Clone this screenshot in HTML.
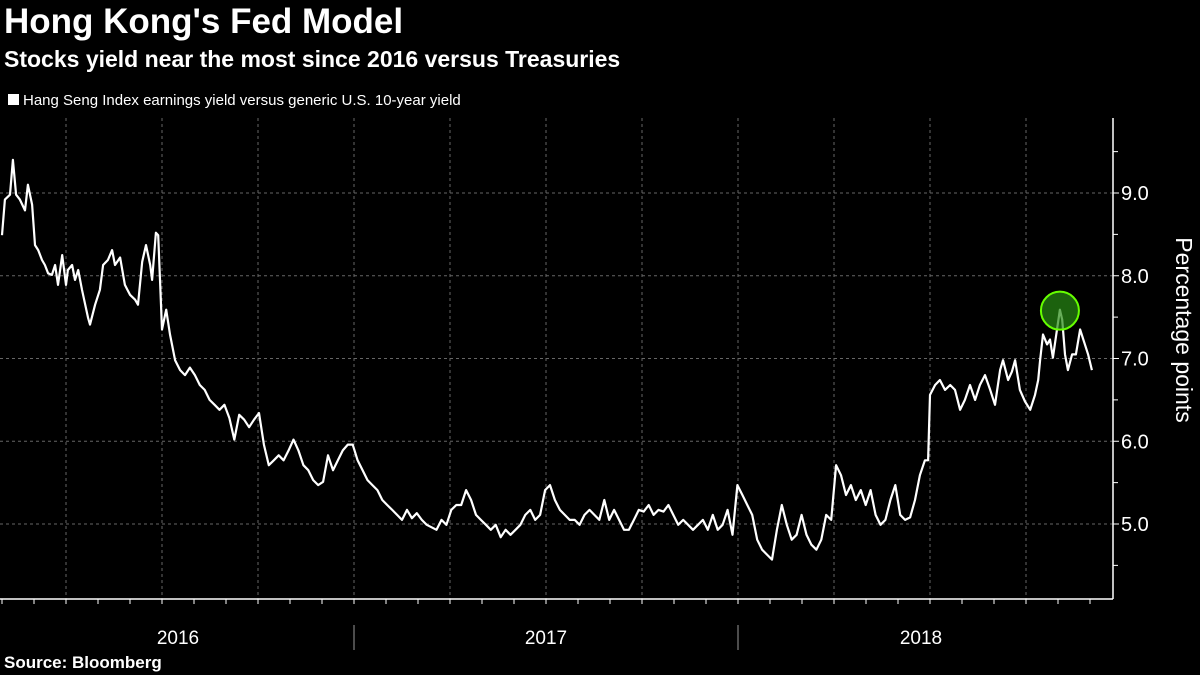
<!DOCTYPE html>
<html><head><meta charset="utf-8"><style>
html,body{margin:0;padding:0;background:#000;width:1200px;height:675px;overflow:hidden;font-family:"Liberation Sans",sans-serif;color:#fff}
.t{position:absolute;left:4px;white-space:nowrap}
</style></head><body>
<div class="t" style="top:2px;font-size:35px;font-weight:bold">Hong Kong's Fed Model</div>
<div class="t" style="top:46px;font-size:23px;font-weight:bold">Stocks yield near the most since 2016 versus Treasuries</div>
<div class="t" style="top:92px;left:8px;font-size:15px"><span style="display:inline-block;width:11px;height:11px;background:#fff;margin-right:4px"></span>Hang Seng Index earnings yield versus generic U.S. 10-year yield</div>
<div class="t" style="top:653px;font-size:17px;font-weight:bold">Source: Bloomberg</div>
<svg id="c" width="1200" height="675" style="position:absolute;left:0;top:0"></svg>
<script>
const yTicks=[5,6,7,8,9];
const years=["2016","2017","2018"];
const values=[8.49,8.92,8.98,9.40,8.98,8.92,8.79,9.10,8.86,8.37,8.31,8.19,8.13,8.03,8.01,8.13,7.89,8.25,7.89,8.07,8.13,7.95,8.07,7.83,7.49,7.41,7.65,7.83,8.13,8.19,8.31,8.13,8.22,7.89,7.77,7.71,7.65,8.17,8.37,8.13,7.95,8.52,8.49,7.35,7.59,7.29,6.98,6.86,6.80,6.89,6.80,6.68,6.62,6.50,6.44,6.38,6.44,6.28,6.02,6.32,6.26,6.17,6.26,6.34,5.96,5.71,5.77,5.83,5.77,5.89,6.02,5.89,5.71,5.65,5.53,5.47,5.51,5.83,5.65,5.77,5.89,5.96,5.96,5.77,5.65,5.53,5.47,5.41,5.29,5.23,5.17,5.11,5.05,5.17,5.07,5.13,5.05,4.99,4.96,4.93,5.05,4.99,5.17,5.23,5.23,5.41,5.29,5.11,5.05,4.99,4.93,4.99,4.84,4.93,4.87,4.93,4.99,5.11,5.17,5.05,5.11,5.41,5.47,5.29,5.17,5.11,5.05,5.05,4.99,5.11,5.17,5.11,5.05,5.29,5.05,5.17,5.05,4.93,4.93,5.05,5.17,5.15,5.23,5.11,5.17,5.15,5.23,5.11,4.99,5.05,4.99,4.93,4.99,5.05,4.93,5.11,4.93,4.99,5.17,4.87,5.47,5.35,5.23,5.11,4.81,4.69,4.63,4.57,4.93,5.23,4.99,4.81,4.87,5.11,4.87,4.75,4.69,4.81,5.11,5.05,5.71,5.59,5.35,5.47,5.29,5.41,5.23,5.41,5.11,4.99,5.05,5.29,5.47,5.11,5.05,5.08,5.29,5.59,5.77,5.77,6.56,6.68,6.74,6.62,6.68,6.62,6.38,6.50,6.68,6.50,6.68,6.80,6.62,6.44,6.86,6.98,6.74,6.84,6.98,6.62,6.48,6.38,6.56,6.74,6.98,7.29,7.17,7.23,7.01,7.35,7.59,7.47,7.05,6.86,7.05,7.05,7.35,7.17,7.05,6.86];
// observation dates, in months since Jan 2016 (irregular head and tail; middle is a regular weekly run)
const headMonths=[1.00,1.09,1.25,1.34,1.44,1.56,1.72,1.81,1.94,2.03,2.13,2.25,2.34,2.44,2.56,2.66,2.75,2.88,3.00,3.06,3.19,3.28,3.38,3.50,3.69,3.75,3.91,4.06,4.16,4.31,4.44,4.53,4.69,4.84,5.00,5.16,5.25,5.38,5.50,5.63,5.69,5.81,5.88,6.00,6.13,6.25];
const midStart=6.41, midEnd=29.84;
const tailMonths=[29.94,30.00,30.16,30.31,30.47,30.63,30.78,30.94,31.09,31.25,31.41,31.56,31.72,31.88,32.03,32.19,32.28,32.44,32.56,32.66,32.81,32.97,33.13,33.28,33.38,33.44,33.53,33.66,33.75,33.84,33.97,34.06,34.13,34.22,34.31,34.44,34.56,34.69,34.84,34.94,35.06];
const svg=document.getElementById('c');const NS='http://www.w3.org/2000/svg';
function y(v){return 524-(v-5)*82.75;}
function x(t){return 354+(t-12)*32;}
function mk(tag,a,p){const e=document.createElementNS(NS,tag);for(const k in a)e.setAttribute(k,a[k]);(p||svg).appendChild(e);return e;}
yTicks.forEach(v=>{const l=mk('line',{x1:0,x2:1113,y1:y(v),y2:y(v),stroke:'#666','stroke-dasharray':'3,3','stroke-width':1});


mk('line',{x1:1113,x2:1119,y1:y(v),y2:y(v),stroke:'#fff'});
const tx=mk('text',{x:1121,y:y(v)+7,fill:'#fff','font-size':20,'font-family':'Liberation Sans,sans-serif'});tx.textContent=v.toFixed(1);


});
for(let v=4.5;v<=9.5;v+=1){mk('line',{x1:1113,x2:1118,y1:y(v),y2:y(v),stroke:'#fff'});}
for(let m=0;m<=36;m++){const xx=x(m);if(xx<0||xx>1110)continue;
 mk('line',{x1:xx,x2:xx,y1:599,y2:604,stroke:'#fff'});
 if(m%3==0){const g=mk('line',{x1:xx,x2:xx,y1:118,y2:599,stroke:'#666','stroke-dasharray':'3,3'});
 
 }}
mk('line',{x1:0,x2:1113,y1:599,y2:599,stroke:'#fff','stroke-width':1.5});
mk('line',{x1:1113,x2:1113,y1:118,y2:599,stroke:'#fff','stroke-width':1.5});
[12,24].forEach(m=>mk('line',{x1:x(m),x2:x(m),y1:625,y2:650,stroke:'#999'}));
years.forEach((s,i)=>{let c=i==0?178:(x(i*12)+x(i*12+12))/2;if(i==2)c=921;
const t=mk('text',{x:c,y:644,fill:'#fff','font-size':19,'text-anchor':'middle','font-family':'Liberation Sans,sans-serif'});t.textContent=s;

});
const yt=mk('text',{transform:'translate(1176,330) rotate(90)',fill:'#fff','font-size':23,'text-anchor':'middle','font-family':'Liberation Sans,sans-serif'});yt.textContent='Percentage points';


const n=values.length;const midN=n-headMonths.length-tailMonths.length;
const months=headMonths.slice();
for(let i=0;i<midN;i++)months.push(midStart+(midEnd-midStart)*i/(midN-1));
tailMonths.forEach(t=>months.push(t));
let d='';let mi=n-tailMonths.length;
values.forEach((v,i)=>{d+=(i?'L':'M')+x(months[i]).toFixed(1)+','+y(v).toFixed(1);if(i>=n-tailMonths.length&&v>values[mi])mi=i;});
const p=mk('path',{d:d,fill:'none',stroke:'#fff','stroke-width':2.2,'stroke-linejoin':'round'});


const c=mk('circle',{cx:x(months[mi]),cy:y(values[mi])+1,r:19,fill:'rgba(40,140,20,0.7)',stroke:'#6f0','stroke-width':2});


</script>
</body></html>
